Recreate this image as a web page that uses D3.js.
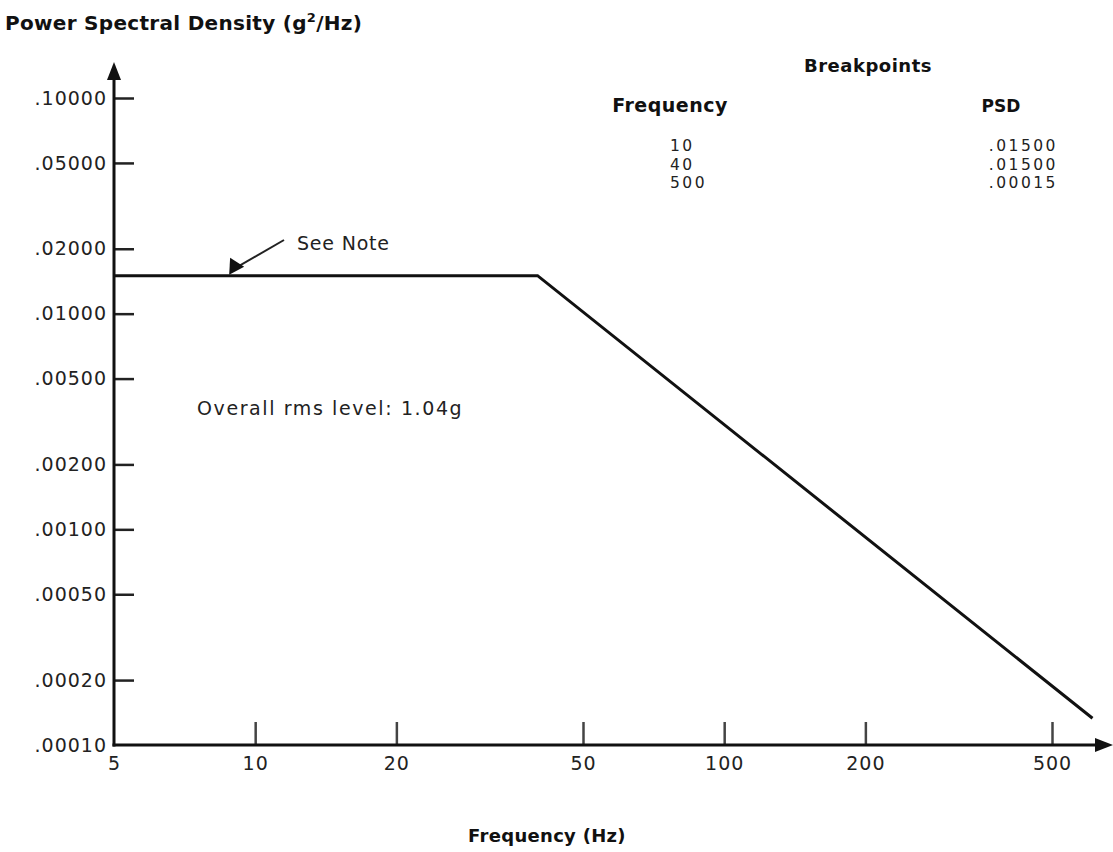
<!DOCTYPE html>
<html>
<head>
<meta charset="utf-8">
<script src="https://cdn.jsdelivr.net/npm/d3@7"></script>
<style>
  body { margin: 0; background: #fff; }
  text { font-family: "DejaVu Sans", "Liberation Sans", Arial, sans-serif; fill: #222; }
  .bold { font-weight: bold; fill: #111; }
</style>
</head>
<body>
<div id="chart-container"></div>
<script>
const width = 1113;
const height = 852;

// tick values
const freqTicks = [5, 10, 20, 50, 100, 200, 500];
const psdTicks = [0.1, 0.05, 0.02, 0.01, 0.005, 0.002, 0.001, 0.0005, 0.0002, 0.0001];

// breakpoint table
const bpFreq = [10, 40, 500];
const bpPsd = [0.015, 0.015, 0.00015];

// profile as drawn on the plot
const profileFreq = [5, 40, 610];
const profilePsd = [0.015, 0.015, 0.000133];

const svg = d3.select("#chart-container").append("svg")
  .attr("width", width)
  .attr("height", height);

//Defines the scales
const x = d3.scaleLog()
  .domain([5, 500])
  .range([114, 1052]);

const y = d3.scaleLog()
  .domain([0.0001, 0.1])
  .range([745, 98]);

const fmtPsd = d => d3.format(".5f")(d).replace(/^0/, "");

// y axis ticks + labels
const yAxis = svg.append("g")
  .attr("transform", `translate(${x(5)},0)`)
  .call(d3.axisLeft(y)
    .tickValues(psdTicks)
    .tickSizeInner(-20)
    .tickSizeOuter(0)
    .tickPadding(7)
    .tickFormat(fmtPsd));
yAxis.select(".domain").remove();
yAxis.selectAll("text")
  .style("font-size", "19px")
  .style("letter-spacing", "1px");
yAxis.selectAll("line")
  .attr("stroke", "#222")
  .attr("stroke-width", 2.5)
  .filter(d => d === 0.0001).remove();

// x axis ticks + labels
const xAxis = svg.append("g")
  .attr("transform", `translate(0,${y(0.0001)})`)
  .call(d3.axisBottom(x)
    .tickValues(freqTicks)
    .tickSizeInner(-23)
    .tickSizeOuter(0)
    .tickPadding(12)
    .tickFormat(d3.format("d")));
xAxis.select(".domain").remove();
xAxis.selectAll("text")
  .style("font-size", "19px")
  .style("letter-spacing", "1px");
xAxis.selectAll("line")
  .attr("stroke", "#444")
  .attr("stroke-width", 2.5)
  .filter(d => d === 5).remove();

// axis lines with arrows
const x0 = x(5), y0 = y(0.0001);
svg.append("line")
  .attr("x1", x0).attr("y1", y0 + 1.5)
  .attr("x2", x0).attr("y2", 75)
  .attr("stroke", "#111").attr("stroke-width", 3);
svg.append("path")
  .attr("d", `M${x0},62 L${x0 - 7},80 L${x0 + 7},80 Z`)
  .attr("fill", "#111");
svg.append("line")
  .attr("x1", x0 - 1.5).attr("y1", y0)
  .attr("x2", 1100).attr("y2", y0)
  .attr("stroke", "#111").attr("stroke-width", 3);
svg.append("path")
  .attr("d", `M1113,${y0} L1095,${y0 - 7} L1095,${y0 + 7} Z`)
  .attr("fill", "#111");

// PSD profile
const line = d3.line()
  .x(d => x(d[0]))
  .y(d => y(d[1]));
svg.append("path")
  .datum(d3.zip(profileFreq, profilePsd))
  .attr("d", line)
  .attr("fill", "none")
  .attr("stroke", "#111")
  .attr("stroke-width", 3);

// titles
svg.append("text")
  .attr("class", "bold")
  .attr("x", 5).attr("y", 30)
  .style("font-size", "20px")
  .style("letter-spacing", "0.3px")
  .text("Power Spectral Density (g")
  .append("tspan").attr("dy", -8).style("font-size", "13px").text("2")
  .clone(true).attr("dy", 8).style("font-size", "20px").text("/Hz)");

svg.append("text")
  .attr("class", "bold")
  .attr("x", 547).attr("y", 842)
  .attr("text-anchor", "middle")
  .style("font-size", "18px")
  .style("letter-spacing", "0.3px")
  .text("Frequency (Hz)");

// annotations
const noteX = x(8.8), noteY = y(0.015);
svg.append("line")
  .attr("x1", 284).attr("y1", 240)
  .attr("x2", noteX + 7).attr("y2", noteY - 8)
  .attr("stroke", "#222").attr("stroke-width", 2);
svg.append("path")
  .attr("d", `M${noteX},${noteY - 1} l1,-17 l14,9 Z`)
  .attr("fill", "#111");
svg.append("text")
  .attr("x", 297).attr("y", 250)
  .style("font-size", "19px")
  .style("letter-spacing", "0.8px")
  .text("See Note");

svg.append("text")
  .attr("x", 197).attr("y", 415)
  .style("font-size", "19px")
  .style("letter-spacing", "1.6px")
  .text("Overall rms level: 1.04g");

// breakpoint table
const tbl = svg.append("g");
tbl.append("text").attr("class", "bold")
  .attr("x", 868).attr("y", 72).attr("text-anchor", "middle")
  .style("font-size", "18px").style("letter-spacing", "0.5px").text("Breakpoints");
tbl.append("text").attr("class", "bold")
  .attr("x", 670).attr("y", 112).attr("text-anchor", "middle")
  .style("font-size", "19px").style("letter-spacing", "0.5px").text("Frequency");
tbl.append("text").attr("class", "bold")
  .attr("x", 1001).attr("y", 112).attr("text-anchor", "middle")
  .style("font-size", "17px").text("PSD");

tbl.selectAll(".bpf")
  .data(bpFreq)
  .enter().append("text")
  .attr("class", "bpf")
  .attr("x", 670)
  .attr("y", (d, i) => 151 + i * 18.5)
  .style("font-size", "15.5px")
  .style("letter-spacing", "2.5px")
  .text(d => d);

tbl.selectAll(".bpp")
  .data(bpPsd)
  .enter().append("text")
  .attr("class", "bpp")
  .attr("x", 1058)
  .attr("text-anchor", "end")
  .attr("y", (d, i) => 151 + i * 18.5)
  .style("font-size", "15.5px")
  .style("letter-spacing", "2.5px")
  .text(d => fmtPsd(d));
</script>
</body>
</html>
